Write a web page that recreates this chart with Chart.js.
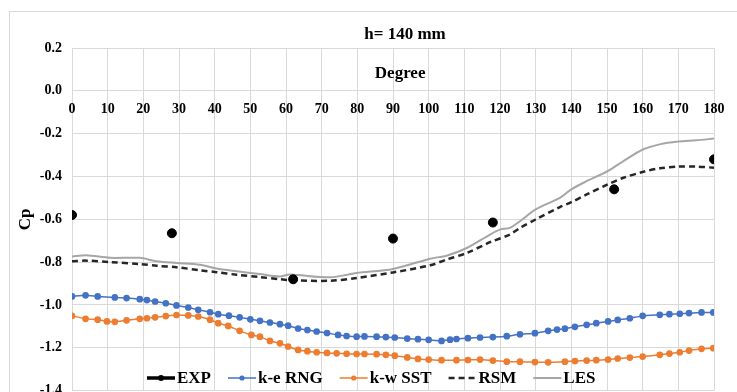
<!DOCTYPE html>
<html>
<head>
<meta charset="utf-8">
<script src="https://cdn.jsdelivr.net/npm/chart.js@4/dist/chart.umd.min.js"></script>
<style>
  html, body { margin: 0; padding: 0; background: #fff; overflow: hidden; }
  #frame { position: absolute; left: 9px; top: 11px; width: 740px; height: 420px; border: 1px solid #d9d9d9; }
  #cp { position: absolute; left: 0; top: 0; }
</style>
</head>
<body>
<div id="frame"></div>
<canvas id="cp" width="737" height="409"></canvas>
<script>
// titles
const chartTitle = 'h= 140 mm';
const xTitle = 'Degree';
const yTitle = 'Cp';

// y axis ticks
const yMin = -1.4, yMax = 0.2, yStep = 0.2;

// EXP (measurements)
const expDeg = [0, 28, 62, 90, 118, 152, 180];
const expCp  = [-0.58, -0.665, -0.88, -0.69, -0.615, -0.46, -0.32];

// k-e RNG
const rngDeg = [0, 3.8, 7.2, 12, 15.3, 19, 21, 23.3, 26.3, 29.3, 32.6, 35.4, 38.7, 41, 44, 47, 50, 52.7, 55.5, 58.3,
  60.6, 63.4, 66, 68.6, 71.5, 74.6, 77, 79.8, 82, 85.4, 88, 90.5, 94, 97, 100, 103.6, 106, 107.8, 111, 114.4,
  118, 121.9, 125.6, 129.8, 133.5, 136, 138.2, 141, 144.3, 147, 150.3, 153, 156.4, 160, 164.8, 167.5, 170.4, 173, 176.5, 179.8];
const rngCp = [-0.96, -0.955, -0.96, -0.965, -0.968, -0.973, -0.977, -0.984, -0.992, -1.002, -1.012, -1.023, -1.034, -1.043, -1.05, -1.058, -1.067, -1.074, -1.082, -1.09,
  -1.097, -1.11, -1.117, -1.124, -1.131, -1.14, -1.145, -1.148, -1.147, -1.148, -1.15, -1.152, -1.157, -1.16, -1.163, -1.168, -1.162, -1.159, -1.155, -1.152,
  -1.15, -1.146, -1.137, -1.132, -1.121, -1.115, -1.111, -1.102, -1.093, -1.085, -1.077, -1.07, -1.062, -1.051, -1.046, -1.043, -1.041, -1.038, -1.035, -1.035];

// k-w SST
const sstDeg = [0, 3.8, 7.2, 9.8, 12, 15.3, 19, 21, 23.3, 26.3, 29.3, 32.6, 35.4, 38.7, 41, 43.8, 47, 50.3, 52.7, 55.5,
  58.3, 60.6, 63.4, 66, 68.6, 71.5, 74.2, 77, 79.8, 82, 85.4, 88, 90.5, 94, 97, 100, 103.6, 107.8, 111, 114.4,
  118, 121.9, 125.6, 129.8, 133.5, 138.2, 141, 144.3, 147, 150.3, 153, 156.4, 160, 164.8, 167.5, 170.4, 173, 176.5, 179.8];
const sstCp = [-1.051, -1.065, -1.069, -1.077, -1.079, -1.072, -1.065, -1.062, -1.058, -1.052, -1.047, -1.049, -1.054, -1.069, -1.085, -1.098, -1.121, -1.14, -1.148, -1.168,
  -1.179, -1.194, -1.21, -1.216, -1.221, -1.224, -1.226, -1.228, -1.229, -1.229, -1.23, -1.233, -1.237, -1.245, -1.252, -1.255, -1.258, -1.258, -1.257, -1.255,
  -1.26, -1.265, -1.265, -1.267, -1.268, -1.265, -1.262, -1.26, -1.258, -1.255, -1.25, -1.246, -1.241, -1.233, -1.227, -1.221, -1.213, -1.205, -1.202];

// RSM
const rsmDeg = [0, 4, 10.7, 19, 23.7, 29.3, 35.9, 40.5, 46.2, 52.7, 58.3, 62, 72.3, 79.8, 90, 100.4, 105, 110.7, 117.2, 122.8,
  125.6, 130, 136.8, 140, 144.3, 150.2, 154.6, 160.2, 164.8, 170, 175, 180];
const rsmCp = [-0.796, -0.793, -0.8, -0.809, -0.817, -0.824, -0.838, -0.847, -0.859, -0.87, -0.88, -0.885, -0.887, -0.874, -0.848, -0.815, -0.788, -0.757, -0.707, -0.671,
  -0.64, -0.601, -0.543, -0.52, -0.484, -0.437, -0.406, -0.378, -0.362, -0.354, -0.354, -0.359];

// LES
const lesDeg = [0, 4, 10.7, 19, 23.7, 29.3, 35.9, 40.5, 46.2, 52.7, 58.3, 61, 72.3, 79.8, 90, 100.4, 105, 110.7, 117.2, 120,
  122.8, 125.6, 130, 136.8, 140, 144.3, 150.2, 154.6, 160.2, 164.8, 170, 175, 180];
const lesCp = [-0.774, -0.768, -0.78, -0.78, -0.796, -0.804, -0.812, -0.83, -0.843, -0.856, -0.867, -0.858, -0.871, -0.851, -0.832, -0.784, -0.77, -0.734, -0.671, -0.648,
  -0.64, -0.609, -0.554, -0.5, -0.46, -0.422, -0.375, -0.328, -0.273, -0.25, -0.237, -0.231, -0.223];

const pts = (xs, ys) => xs.map((x, i) => ({ x: x, y: ys[i] }));

Chart.defaults.font.family = '"Liberation Serif", "Times New Roman", serif';
Chart.defaults.color = '#000';

// title, "Degree" and the legend sit inside the plot, so they are drawn here
const overlayText = {
  id: 'overlayText',
  afterDraw(chart) {
    const { ctx, chartArea, scales } = chart;
    ctx.save();
    ctx.fillStyle = '#000';
    ctx.textAlign = 'center';
    ctx.textBaseline = 'middle';
    ctx.font = 'bold 17px "Liberation Serif"';
    ctx.fillText(chartTitle, (chartArea.left + chartArea.right) / 2 + 12, 35);
    ctx.fillText(xTitle, scales.x.getPixelForValue(92), scales.y.getPixelForValue(0.1) + 4);

    // legend
    ctx.textAlign = 'left';
    let x = 147;
    const y = 378;
    chart.data.datasets.forEach(ds => {
      const w = 28;
      ctx.save();
      ctx.strokeStyle = ds.borderColor;
      ctx.lineWidth = ds.legendWidth || ds.borderWidth;
      ctx.setLineDash(ds.borderDash || []);
      ctx.beginPath();
      ctx.moveTo(x, y);
      ctx.lineTo(x + w, y);
      ctx.stroke();
      if (ds.pointRadius > 0) {
        ctx.setLineDash([]);
        ctx.fillStyle = ds.pointBackgroundColor;
        ctx.beginPath();
        ctx.arc(x + w / 2, y, Math.min(ds.pointRadius, 3), 0, Math.PI * 2);
        ctx.fill();
      }
      ctx.restore();
      ctx.fillText(ds.label, x + w + 2, y + 1);
      x += w + 2 + ctx.measureText(ds.label).width + 17;
    });
    ctx.restore();
  }
};

new Chart(document.getElementById('cp'), {
  type: 'scatter',
  data: {
    datasets: [
      { label: 'EXP', data: pts(expDeg, expCp), showLine: false, borderColor: '#000', backgroundColor: '#000',
        pointBackgroundColor: '#000', pointBorderColor: '#000', pointRadius: 4.5, borderWidth: 1, legendWidth: 3.5, order: 0 },
      { label: 'k-e RNG', data: pts(rngDeg, rngCp), showLine: true, borderColor: '#4472c4', backgroundColor: '#4472c4',
        pointBackgroundColor: '#4472c4', pointBorderColor: '#4472c4', pointRadius: 2.6, borderWidth: 1.5, tension: 0.2, order: 3 },
      { label: 'k-w SST', data: pts(sstDeg, sstCp), showLine: true, borderColor: '#ed7d31', backgroundColor: '#ed7d31',
        pointBackgroundColor: '#ed7d31', pointBorderColor: '#ed7d31', pointRadius: 2.6, borderWidth: 1.5, tension: 0.2, order: 4 },
      { label: 'RSM', data: pts(rsmDeg, rsmCp), showLine: true, borderColor: '#262626', backgroundColor: '#262626',
        borderDash: [6, 4], pointRadius: 0, borderWidth: 2.5, tension: 0.3, order: 1 },
      { label: 'LES', data: pts(lesDeg, lesCp), showLine: true, borderColor: '#a6a6a6', backgroundColor: '#a6a6a6',
        pointRadius: 0, borderWidth: 2, tension: 0.3, order: 2 }
    ]
  },
  options: {
    responsive: false,
    animation: false,
    layout: { padding: { left: 9, right: 23, top: 48, bottom: 9 } },
    plugins: { legend: { display: false }, tooltip: { enabled: false }, title: { display: false } },
    scales: {
      x: {
        type: 'linear',
        position: { y: 0 },
        min: 0, max: 180,
        ticks: { stepSize: 10, padding: 10, font: { size: 14, weight: 'bold' }, color: '#000' },
        grid: { color: '#d9d9d9', drawTicks: false },
        border: { display: false }
      },
      y: {
        min: yMin, max: yMax,
        ticks: {
          stepSize: yStep, padding: 10, font: { size: 14, weight: 'bold' }, color: '#000',
          callback: v => (Math.abs(v) < 1e-9 ? 0 : v).toFixed(1)
        },
        grid: { color: '#d9d9d9', drawTicks: false },
        border: { display: false },
        title: { display: true, text: yTitle, font: { size: 17, weight: 'bold' }, color: '#000', padding: { top: 6, bottom: 0 } },
        afterFit: s => { s.width = 63; }
      }
    }
  },
  plugins: [overlayText]
});
</script>
</body>
</html>
